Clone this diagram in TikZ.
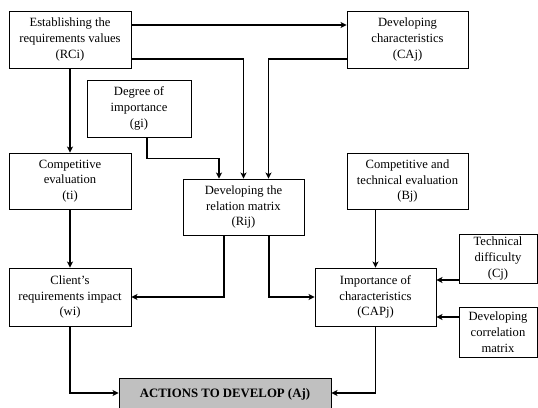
\documentclass[tikz,border=0pt]{standalone}
\usepackage{fontspec}
\setmainfont{Liberation Serif}
\usetikzlibrary{arrows.meta,calc}
\begin{document}
\begin{tikzpicture}[x=1pt,y=-1pt,
  box/.style={draw,line width=0.9pt,align=center,inner sep=0pt,
    font=\fontsize{12.6}{15.8}\selectfont},
  arr/.style={line width=1.3pt,-{Stealth[length=6pt,width=6pt,inset=1.5pt]}}]
\useasboundingbox (0,0) rectangle (538,407);
\clip (0,0) rectangle (538,407);
\node[box,minimum width=122pt,minimum height=57pt] (RCi) at (70,39.5) {Establishing the\\requirements values\\(RCi)};
\node[box,minimum width=121pt,minimum height=57pt] (CAj) at (407.5,39.5) {Developing\\characteristics\\(CAj)};
\node[box,minimum width=104pt,minimum height=57pt] (gi) at (139,108.5) {Degree of\\importance\\(gi)};
\node[box,minimum width=122pt,minimum height=56pt] (ti) at (70,181) {Competitive\\evaluation\\(ti)};
\node[box,minimum width=121pt,minimum height=56pt] (Rij) at (243.5,207) {Developing the\\relation matrix\\(Rij)};
\node[box,minimum width=121pt,minimum height=56pt] (Bj) at (407.5,181) {Competitive and\\technical evaluation\\(Bj)};
\node[box,minimum width=122pt,minimum height=58pt] (wi) at (70,297) {Client's\\requirements impact\\(wi)};
\node[box,minimum width=121pt,minimum height=58pt] (CAPj) at (375.5,297) {Importance of\\characteristics\\(CAPj)};
\node[box,minimum width=78pt,minimum height=49pt] (Cj) at (498,258.5) {Technical\\difficulty\\(Cj)};
\node[box,minimum width=78pt,minimum height=50pt] (Corr) at (498,332) {Developing\\correlation\\matrix};
\node[box,fill={rgb,255:red,192;green,192;blue,192},minimum width=212pt,minimum height=32pt,
  font=\bfseries\fontsize{12.8}{15}\selectfont] (Aj) at (225,394) {\raisebox{-3pt}[0pt][0pt]{ACTIONS TO DEVELOP (Aj)}};

\draw[arr] ([yshift=14.5pt]RCi.east) -- ([yshift=14.5pt]CAj.west);
\draw[arr] ([yshift=-19.5pt]RCi.east) -| (Rij.north);
\draw[arr] ([yshift=-19.5pt]CAj.west) -| ([xshift=25pt]Rij.north);
\draw[arr] ([xshift=8pt]gi.south) -- ++(0,21) -| ([xshift=-24.5pt]Rij.north);
\draw[arr] (RCi.south) -- (ti.north);
\draw[arr] (ti.south) -- (wi.north);
\draw[arr] ([xshift=-19.5pt]Rij.south) |- (wi.east);
\draw[arr] ([xshift=25.5pt]Rij.south) |- (CAPj.west);
\draw[arr] (CAPj.north |- Bj.south) -- (CAPj.north);
\draw[arr] ([yshift=-21.5pt]Cj.west) -- ([yshift=17pt]CAPj.east);
\draw[arr] ([yshift=15pt]Corr.west) -- ([yshift=-20pt]CAPj.east);
\draw[arr] (CAPj.south) |- ([yshift=1pt]Aj.east);
\draw[arr] (wi.south) |- ([yshift=1pt]Aj.west);
\end{tikzpicture}
\end{document}
